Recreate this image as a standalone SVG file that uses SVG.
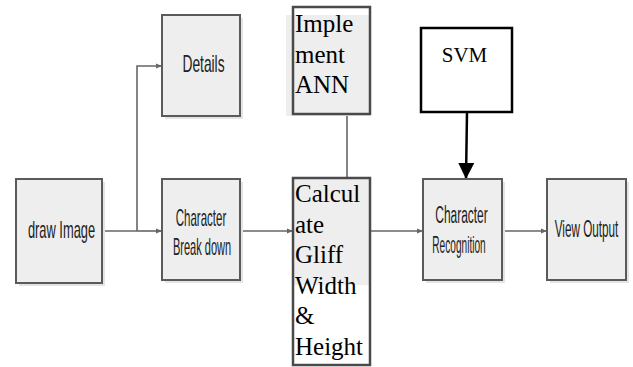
<svg xmlns="http://www.w3.org/2000/svg" width="633" height="367" viewBox="0 0 633 367">
<defs>
<style>
.shadow{fill:#e4e4e4;stroke:none}
.box{fill:#eeeeee;stroke:#5a5a5a;stroke-width:2}
.fill{fill:#eeeeee;stroke:none}
.frame{fill:none;stroke:#4a4a4a;stroke-width:2.5}
.sans{font-family:"Liberation Sans",Arial,sans-serif;font-size:23px;fill:#222;text-anchor:middle}
.serif{font-family:"Liberation Serif","Times New Roman",serif;font-size:25px;fill:#000}
.conn{fill:none;stroke:#666;stroke-width:1.6}
</style>
<marker id="sm" viewBox="0 0 6 6" refX="6" refY="3" markerWidth="6" markerHeight="6" markerUnits="userSpaceOnUse" orient="auto">
<path d="M0,0.5 L6,3 L0,5.5 Z" fill="#666"/>
</marker>
<marker id="big" viewBox="0 0 16 16" refX="16" refY="8" markerWidth="16" markerHeight="16" markerUnits="userSpaceOnUse" orient="auto">
<path d="M0,0 L16,8 L0,16 Z" fill="#000"/>
</marker>
</defs>
<rect width="633" height="367" fill="#fff"/>

<g id="connectors">
<path class="conn" d="M102,231 H137" stroke-width="2.2"/>
<path class="conn" d="M137,231 H162" marker-end="url(#sm)"/>
<path class="conn" d="M137,231 V66 H162" marker-end="url(#sm)"/>
<path class="conn" d="M240,231 H293" marker-end="url(#sm)"/>
<path class="conn" d="M370,231 H423" marker-end="url(#sm)"/>
<path class="conn" d="M502,231 H547" marker-end="url(#sm)"/>
<path class="conn" d="M347,114 V178" stroke="#4a4a4a" stroke-width="2"/>
<path d="M467,112 L466,179" fill="none" stroke="#000" stroke-width="2.5" marker-end="url(#big)"/>
</g>

<g id="draw-image">
<rect class="shadow" x="19" y="182" width="86" height="104"/>
<rect class="box" x="16" y="179" width="86" height="104"/>
<text class="sans" transform="translate(61.5,238) scale(0.56,1)">draw Image</text>
</g>

<g id="details">
<rect class="shadow" x="165" y="18" width="78" height="101"/>
<rect class="box" x="162" y="15" width="78" height="101"/>
<text class="sans" transform="translate(203.5,72) scale(0.6,1)">Details</text>
</g>

<g id="character-break-down">
<rect class="shadow" x="165" y="182" width="78" height="101"/>
<rect class="box" x="162" y="179" width="78" height="101"/>
<text class="sans" transform="translate(201,226) scale(0.5,1)">Character</text>
<text class="sans" transform="translate(202,255) scale(0.48,1)">Break down</text>
</g>

<g id="implement-ann">
<rect class="fill" x="286" y="15" width="84" height="101"/>
<rect class="frame" x="293" y="7" width="77" height="107"/>
<text class="serif" x="295" y="32">Imple</text>
<text class="serif" x="295" y="63">ment</text>
<text class="serif" x="295" y="93">ANN</text>
</g>

<g id="calculate">
<rect class="fill" x="293" y="179" width="77" height="106"/>
<rect class="frame" x="293" y="178" width="77" height="187"/>
<text class="serif" x="295" y="202">Calcul</text>
<text class="serif" x="295" y="232.5">ate</text>
<text class="serif" x="295" y="263">Gliff</text>
<text class="serif" x="295" y="293.5">Width</text>
<text class="serif" x="295" y="324">&amp;</text>
<text class="serif" x="295" y="354.5">Height</text>
</g>

<g id="svm">
<rect x="421" y="28" width="91" height="84" fill="#fff" stroke="#000" stroke-width="2.5"/>
<text x="464.5" y="62" font-family="'Liberation Serif','Times New Roman',serif" font-size="21" text-anchor="middle" fill="#000">SVM</text>
</g>

<g id="character-recognition">
<rect class="shadow" x="426" y="182" width="79" height="101"/>
<rect class="box" x="423" y="179" width="79" height="101"/>
<text class="sans" transform="translate(461.5,223) scale(0.52,1)">Character</text>
<text class="sans" transform="translate(459,253) scale(0.44,1)">Recognition</text>
</g>

<g id="view-output">
<rect class="shadow" x="550" y="182" width="79" height="101"/>
<rect class="box" x="547" y="179" width="79" height="101"/>
<text class="sans" transform="translate(586.5,237) scale(0.51,1)">View Output</text>
</g>
</svg>
